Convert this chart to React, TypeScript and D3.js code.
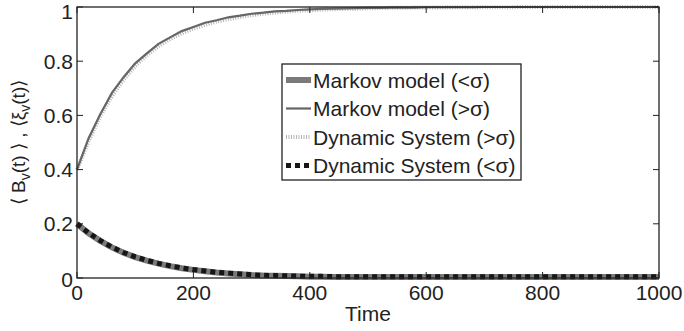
import React from "react";
import * as d3 from "d3";

// sample times (step 20)
const times = d3.range(0, 1001, 20);

// upper pair
const markovAbove = [
  0.400, 0.516, 0.604, 0.683, 0.741, 0.792, 0.829, 0.864, 0.888, 0.911,
  0.926, 0.942, 0.951, 0.962, 0.968, 0.975, 0.979, 0.984, 0.986, 0.989,
  0.991, 0.993, 0.994, 0.995, 0.996, 0.997, 0.997, 0.998, 0.998, 0.998,
  0.999, 0.999, 0.999, 0.999, 0.999, 1.000, 1.000, 1.000, 1.000, 1.000,
  1.000, 1.000, 1.000, 1.000, 1.000, 1.000, 1.000, 1.000, 1.000, 1.000, 1.000,
];
const dynamicAbove = [
  0.400, 0.505, 0.596, 0.671, 0.732, 0.782, 0.822, 0.855, 0.882, 0.903,
  0.920, 0.934, 0.946, 0.955, 0.963, 0.970, 0.975, 0.979, 0.983, 0.986,
  0.988, 0.990, 0.992, 0.993, 0.994, 0.995, 0.996, 0.997, 0.997, 0.998,
  0.998, 0.998, 0.999, 0.999, 0.999, 0.999, 0.999, 0.999, 1.000, 1.000,
  1.000, 1.000, 1.000, 1.000, 1.000, 1.000, 1.000, 1.000, 1.000, 1.000, 1.000,
];

// lower pair
const markovBelow = [
  0.200, 0.165, 0.137, 0.113, 0.093, 0.077, 0.064, 0.053, 0.044, 0.036,
  0.030, 0.025, 0.020, 0.017, 0.014, 0.011, 0.009, 0.008, 0.007, 0.006,
  0.005, 0.005, 0.004, 0.004, 0.004, 0.004, 0.004, 0.004, 0.004, 0.004,
  0.004, 0.004, 0.004, 0.004, 0.004, 0.004, 0.004, 0.004, 0.004, 0.004,
  0.004, 0.004, 0.004, 0.004, 0.004, 0.004, 0.004, 0.004, 0.004, 0.004, 0.004,
];
const dynamicBelow = [
  0.200, 0.166, 0.138, 0.114, 0.094, 0.078, 0.065, 0.054, 0.045, 0.037,
  0.031, 0.026, 0.021, 0.018, 0.015, 0.012, 0.010, 0.009, 0.008, 0.007,
  0.006, 0.006, 0.005, 0.005, 0.005, 0.005, 0.005, 0.005, 0.005, 0.005,
  0.005, 0.005, 0.005, 0.005, 0.005, 0.005, 0.005, 0.005, 0.005, 0.005,
  0.005, 0.005, 0.005, 0.005, 0.005, 0.005, 0.005, 0.005, 0.005, 0.005, 0.005,
];

const xTicks = [0, 200, 400, 600, 800, 1000];
const yTicks = [0, 0.2, 0.4, 0.6, 0.8, 1];
const legendLabels = [
  "Markov model (<σ)",
  "Markov model (>σ)",
  "Dynamic System (>σ)",
  "Dynamic System (<σ)",
];

const W = 684;
const H = 331;
const margin = { top: 7, right: 25, bottom: 53, left: 77 };
const font = "Liberation Sans, Arial, Helvetica, sans-serif";

const styles = [
  { stroke: "#7a7a7a", width: 6, dash: undefined },
  { stroke: "#666", width: 2.2, dash: undefined },
  { stroke: "#b4b4b4", width: 4, dash: "1 1.5" },
  { stroke: "#161616", width: 5, dash: "5 4" },
];

export default function App() {
  const x = d3.scaleLinear().domain([0, 1000]).range([margin.left, W - margin.right]);
  const y = d3.scaleLinear().domain([0, 1]).range([H - margin.bottom, margin.top]);

  const line = (vals: number[]) =>
    d3
      .line<number>()
      .x((d, i) => x(times[i]))
      .y((d) => y(d))(vals) || "";

  // draw the dotted dynamic curve under the thin Markov line
  const order = [0, 2, 1, 3];
  const series = [markovBelow, markovAbove, dynamicAbove, dynamicBelow];
  const x0 = x(0), x1 = x(1000), y0 = y(0), y1 = y(1);

  const lg = { x: 282, y: 64, w: 239, h: 116, row: 28.5 };

  return (
    <svg width={W} height={H} style={{ position: "absolute", left: 0, top: 0, background: "#fff" }}>
      {/* data */}
      {order.map((i) => (
        <path
          key={i}
          d={line(series[i])}
          fill="none"
          stroke={styles[i].stroke}
          strokeWidth={styles[i].width}
          strokeDasharray={styles[i].dash}
        />
      ))}

      {/* box and ticks */}
      <rect x={x0} y={y1} width={x1 - x0} height={y0 - y1} fill="none" stroke="#222" strokeWidth={1.3} />
      {xTicks.map((t) => (
        <g key={"x" + t}>
          <line x1={x(t)} x2={x(t)} y1={y0} y2={y0 - 6} stroke="#222" />
          <line x1={x(t)} x2={x(t)} y1={y1} y2={y1 + 6} stroke="#222" />
          <text x={x(t)} y={y0 + 22} textAnchor="middle" fontSize={21} fontFamily={font} fill="#222">
            {t}
          </text>
        </g>
      ))}
      {yTicks.map((t) => (
        <g key={"y" + t}>
          <line x1={x0} x2={x0 + 6} y1={y(t)} y2={y(t)} stroke="#222" />
          <line x1={x1} x2={x1 - 6} y1={y(t)} y2={y(t)} stroke="#222" />
          <text
            x={x0 - 4}
            y={y(t) + (t === 0 ? 9 : t === 1 ? 12 : 7.5)}
            textAnchor="end"
            fontSize={21}
            fontFamily={font}
            fill="#222"
          >
            {t}
          </text>
        </g>
      ))}

      <text x={(x0 + x1) / 2} y={321} textAnchor="middle" fontSize={21} fontFamily={font} fill="#222">
        Time
      </text>

      <text
        transform={`translate(25, ${(y0 + y1) / 2}) rotate(-90)`}
        textAnchor="middle"
        fontSize={19}
        fontFamily={font}
        fill="#222"
      >
        ⟨ B<tspan fontSize={14} dy={5}>v</tspan>
        <tspan dy={-5}>(t) ⟩ ,  ⟨ξ</tspan>
        <tspan fontSize={14} dy={5}>v</tspan>
        <tspan dy={-5}>(t)⟩</tspan>
      </text>

      {/* legend */}
      <rect x={lg.x} y={lg.y} width={lg.w} height={lg.h} fill="#fff" stroke="#222" strokeWidth={1.3} />
      {legendLabels.map((lab, i) => {
        const cy = lg.y + 16 + i * lg.row;
        return (
          <g key={lab}>
            <line
              x1={lg.x + 4}
              x2={lg.x + 29}
              y1={cy}
              y2={cy}
              stroke={styles[i].stroke}
              strokeWidth={styles[i].width}
              strokeDasharray={styles[i].dash}
            />
            <text x={lg.x + 31} y={cy + 7.5} fontSize={21} fontFamily={font} fill="#222">
              {lab}
            </text>
          </g>
        );
      })}
    </svg>
  );
}
